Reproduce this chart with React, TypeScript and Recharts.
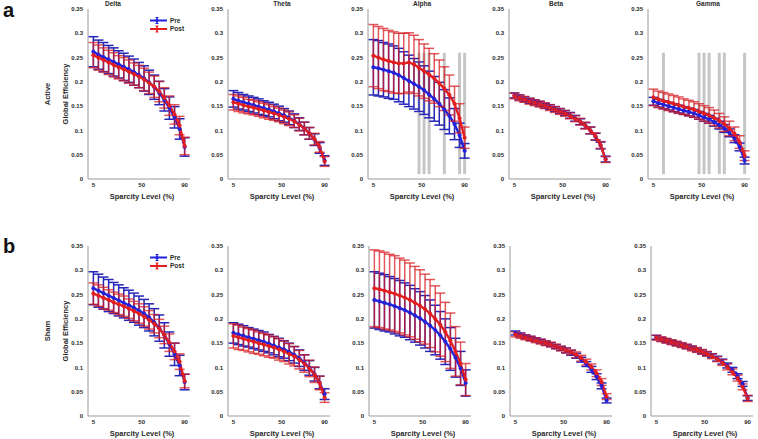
import { LineChart, Line, XAxis, YAxis, ErrorBar, ReferenceLine } from "recharts";

const SPARSITY = [5, 9.7, 14.4, 19.2, 23.9, 28.6, 33.3, 38.1, 42.8, 47.5, 52.2, 56.9, 61.7, 66.4, 71.1, 75.8, 80.6, 85.3, 90];
const X_TICKS = [5, 50, 90];
const Y_TICKS = [0, 0.05, 0.1, 0.15, 0.2, 0.25, 0.3, 0.35];
const BANDS = ["Delta", "Theta", "Alpha", "Beta", "Gamma"];
const GROUPS = ["Active", "Sham"];

// Active group
const deltaActivePre = [0.262, 0.256, 0.251, 0.246, 0.241, 0.236, 0.231, 0.226, 0.22, 0.214, 0.207, 0.199, 0.189, 0.177, 0.163, 0.146, 0.127, 0.103, 0.066];
const deltaActivePreErr = [0.031, 0.03, 0.03, 0.029, 0.029, 0.028, 0.028, 0.027, 0.027, 0.026, 0.026, 0.025, 0.025, 0.024, 0.023, 0.023, 0.022, 0.021, 0.019];
const deltaActivePost = [0.255, 0.25, 0.245, 0.24, 0.235, 0.23, 0.226, 0.221, 0.216, 0.211, 0.205, 0.198, 0.19, 0.18, 0.167, 0.151, 0.133, 0.11, 0.068];
const deltaActivePostErr = [0.026, 0.026, 0.025, 0.025, 0.025, 0.024, 0.024, 0.024, 0.023, 0.023, 0.023, 0.022, 0.022, 0.021, 0.021, 0.02, 0.02, 0.019, 0.018];

const thetaActivePre = [0.165, 0.161, 0.158, 0.155, 0.152, 0.149, 0.146, 0.143, 0.139, 0.135, 0.131, 0.126, 0.12, 0.113, 0.104, 0.094, 0.081, 0.064, 0.038];
const thetaActivePreErr = [0.017, 0.017, 0.016, 0.016, 0.016, 0.016, 0.015, 0.015, 0.015, 0.015, 0.014, 0.014, 0.014, 0.013, 0.013, 0.012, 0.012, 0.011, 0.01];
const thetaActivePost = [0.158, 0.155, 0.152, 0.149, 0.147, 0.144, 0.141, 0.138, 0.135, 0.132, 0.128, 0.124, 0.119, 0.112, 0.104, 0.094, 0.082, 0.066, 0.036];
const thetaActivePostErr = [0.016, 0.016, 0.016, 0.015, 0.015, 0.015, 0.015, 0.015, 0.014, 0.014, 0.014, 0.014, 0.013, 0.013, 0.013, 0.012, 0.012, 0.011, 0.01];

const alphaActivePre = [0.23, 0.228, 0.225, 0.222, 0.219, 0.214, 0.208, 0.202, 0.196, 0.19, 0.183, 0.174, 0.165, 0.155, 0.143, 0.13, 0.113, 0.09, 0.058];
const alphaActivePreErr = [0.057, 0.057, 0.056, 0.056, 0.055, 0.055, 0.054, 0.053, 0.052, 0.051, 0.05, 0.048, 0.046, 0.044, 0.041, 0.037, 0.032, 0.025, 0.015];
const alphaActivePost = [0.254, 0.25, 0.246, 0.243, 0.24, 0.238, 0.238, 0.24, 0.236, 0.229, 0.222, 0.215, 0.207, 0.197, 0.186, 0.173, 0.155, 0.125, 0.085];
const alphaActivePostErr = [0.064, 0.064, 0.064, 0.063, 0.063, 0.062, 0.062, 0.061, 0.06, 0.058, 0.056, 0.054, 0.051, 0.048, 0.045, 0.041, 0.036, 0.03, 0.022];

const betaActivePre = [0.172, 0.168, 0.164, 0.161, 0.158, 0.155, 0.151, 0.148, 0.144, 0.14, 0.136, 0.131, 0.125, 0.118, 0.11, 0.1, 0.087, 0.069, 0.041];
const betaActivePreErr = [0.005, 0.005, 0.005, 0.005, 0.005, 0.005, 0.005, 0.005, 0.005, 0.005, 0.005, 0.006, 0.006, 0.006, 0.006, 0.007, 0.007, 0.007, 0.006];
const betaActivePost = [0.171, 0.167, 0.164, 0.16, 0.157, 0.154, 0.151, 0.147, 0.143, 0.139, 0.135, 0.13, 0.124, 0.118, 0.11, 0.1, 0.088, 0.07, 0.04];
const betaActivePostErr = [0.006, 0.006, 0.006, 0.006, 0.006, 0.006, 0.006, 0.006, 0.006, 0.006, 0.006, 0.006, 0.006, 0.007, 0.007, 0.007, 0.007, 0.007, 0.006];

const gammaActivePre = [0.16, 0.156, 0.153, 0.15, 0.147, 0.144, 0.141, 0.138, 0.135, 0.131, 0.127, 0.123, 0.117, 0.111, 0.104, 0.095, 0.083, 0.066, 0.038];
const gammaActivePreErr = [0.008, 0.008, 0.008, 0.008, 0.008, 0.008, 0.008, 0.008, 0.008, 0.008, 0.008, 0.008, 0.008, 0.008, 0.008, 0.008, 0.008, 0.008, 0.007];
const gammaActivePost = [0.168, 0.164, 0.161, 0.158, 0.155, 0.152, 0.149, 0.146, 0.143, 0.139, 0.135, 0.131, 0.126, 0.12, 0.113, 0.104, 0.093, 0.076, 0.048];
const gammaActivePostErr = [0.017, 0.017, 0.017, 0.017, 0.017, 0.017, 0.016, 0.016, 0.016, 0.016, 0.016, 0.016, 0.016, 0.015, 0.015, 0.015, 0.014, 0.013, 0.01];

// Sham group
const deltaShamPre = [0.263, 0.258, 0.253, 0.248, 0.243, 0.238, 0.233, 0.228, 0.223, 0.217, 0.211, 0.203, 0.193, 0.181, 0.166, 0.148, 0.127, 0.104, 0.07];
const deltaShamPreErr = [0.034, 0.034, 0.033, 0.033, 0.032, 0.032, 0.031, 0.031, 0.03, 0.03, 0.029, 0.028, 0.028, 0.027, 0.026, 0.025, 0.023, 0.021, 0.016];
const deltaShamPost = [0.252, 0.248, 0.243, 0.239, 0.234, 0.23, 0.226, 0.221, 0.216, 0.211, 0.205, 0.198, 0.19, 0.18, 0.167, 0.151, 0.133, 0.112, 0.072];
const deltaShamPostErr = [0.022, 0.022, 0.022, 0.021, 0.021, 0.021, 0.021, 0.02, 0.02, 0.02, 0.02, 0.019, 0.019, 0.019, 0.018, 0.018, 0.017, 0.016, 0.014];

const thetaShamPre = [0.171, 0.168, 0.165, 0.162, 0.159, 0.156, 0.153, 0.149, 0.145, 0.141, 0.137, 0.132, 0.126, 0.119, 0.11, 0.099, 0.086, 0.069, 0.045];
const thetaShamPreErr = [0.021, 0.021, 0.021, 0.02, 0.02, 0.02, 0.02, 0.019, 0.019, 0.019, 0.018, 0.018, 0.017, 0.017, 0.016, 0.015, 0.014, 0.013, 0.011];
const thetaShamPost = [0.165, 0.162, 0.159, 0.156, 0.153, 0.15, 0.147, 0.144, 0.141, 0.137, 0.133, 0.128, 0.123, 0.116, 0.108, 0.098, 0.085, 0.068, 0.038];
const thetaShamPostErr = [0.025, 0.025, 0.024, 0.024, 0.024, 0.023, 0.023, 0.023, 0.022, 0.022, 0.021, 0.021, 0.02, 0.019, 0.018, 0.017, 0.016, 0.014, 0.01];

const alphaShamPre = [0.239, 0.236, 0.233, 0.23, 0.226, 0.222, 0.218, 0.213, 0.207, 0.201, 0.194, 0.186, 0.177, 0.166, 0.153, 0.138, 0.12, 0.098, 0.068];
const alphaShamPreErr = [0.058, 0.058, 0.058, 0.057, 0.057, 0.057, 0.056, 0.056, 0.055, 0.055, 0.054, 0.053, 0.051, 0.049, 0.047, 0.044, 0.04, 0.035, 0.027];
const alphaShamPost = [0.263, 0.261, 0.258, 0.255, 0.252, 0.248, 0.244, 0.239, 0.233, 0.227, 0.22, 0.211, 0.2, 0.188, 0.173, 0.155, 0.133, 0.108, 0.075];
const alphaShamPostErr = [0.079, 0.079, 0.079, 0.078, 0.078, 0.077, 0.077, 0.076, 0.075, 0.074, 0.072, 0.07, 0.068, 0.065, 0.061, 0.057, 0.051, 0.044, 0.033];

const betaShamPre = [0.171, 0.167, 0.163, 0.16, 0.157, 0.154, 0.15, 0.147, 0.143, 0.139, 0.135, 0.13, 0.124, 0.116, 0.107, 0.096, 0.081, 0.062, 0.032];
const betaShamPreErr = [0.004, 0.004, 0.004, 0.004, 0.004, 0.004, 0.004, 0.004, 0.004, 0.004, 0.005, 0.005, 0.005, 0.005, 0.005, 0.006, 0.006, 0.006, 0.005];
const betaShamPost = [0.168, 0.165, 0.162, 0.159, 0.156, 0.153, 0.15, 0.147, 0.143, 0.139, 0.135, 0.131, 0.126, 0.119, 0.111, 0.101, 0.088, 0.07, 0.04];
const betaShamPostErr = [0.005, 0.005, 0.005, 0.005, 0.005, 0.005, 0.005, 0.005, 0.005, 0.005, 0.005, 0.005, 0.006, 0.006, 0.006, 0.006, 0.007, 0.007, 0.006];

const gammaShamPre = [0.162, 0.158, 0.155, 0.152, 0.149, 0.146, 0.143, 0.14, 0.136, 0.132, 0.128, 0.124, 0.118, 0.112, 0.104, 0.095, 0.082, 0.066, 0.037];
const gammaShamPreErr = [0.004, 0.004, 0.004, 0.004, 0.004, 0.004, 0.004, 0.004, 0.004, 0.004, 0.004, 0.004, 0.005, 0.005, 0.005, 0.005, 0.005, 0.005, 0.005];
const gammaShamPost = [0.161, 0.158, 0.155, 0.152, 0.149, 0.146, 0.143, 0.139, 0.136, 0.132, 0.128, 0.123, 0.117, 0.11, 0.101, 0.091, 0.078, 0.06, 0.036];
const gammaShamPostErr = [0.005, 0.005, 0.005, 0.005, 0.005, 0.005, 0.005, 0.005, 0.005, 0.005, 0.005, 0.005, 0.005, 0.006, 0.006, 0.006, 0.006, 0.006, 0.006];

// sparsity levels with significant pre/post differences (grey bars)
const alphaActiveSig = [47.5, 52.2, 56.9, 71.1, 85.3, 90];
const gammaActiveSig = [14.4, 47.5, 52.2, 56.9, 66.4, 71.1, 90];

const FONT = '"Liberation Sans", Arial, sans-serif';
const BLUE = "#2222dc";
const RED = "#e41e1e";
const AXIS = "#9a9a9a";
const TEXT = "#2a2a2a";

const activePanels = [
  [deltaActivePre, deltaActivePreErr, deltaActivePost, deltaActivePostErr, []],
  [thetaActivePre, thetaActivePreErr, thetaActivePost, thetaActivePostErr, []],
  [alphaActivePre, alphaActivePreErr, alphaActivePost, alphaActivePostErr, alphaActiveSig],
  [betaActivePre, betaActivePreErr, betaActivePost, betaActivePostErr, []],
  [gammaActivePre, gammaActivePreErr, gammaActivePost, gammaActivePostErr, gammaActiveSig],
];
const shamPanels = [
  [deltaShamPre, deltaShamPreErr, deltaShamPost, deltaShamPostErr, []],
  [thetaShamPre, thetaShamPreErr, thetaShamPost, thetaShamPostErr, []],
  [alphaShamPre, alphaShamPreErr, alphaShamPost, alphaShamPostErr, []],
  [betaShamPre, betaShamPreErr, betaShamPost, betaShamPostErr, []],
  [gammaShamPre, gammaShamPreErr, gammaShamPost, gammaShamPostErr, []],
];

// layout: left edge of each plot area, per row
const ROW_AXIS_X = [
  [88, 228, 368, 509, 648],
  [88, 228, 369, 510, 651],
];
const ROW_PLOT_TOP = [9, 246];
const PLOT_W = 102;
const PLOT_H = 170;
const TITLE_X = [113, 282, 422, 556, 708];

const fmtY = (v: number) => String(Math.round(v * 100) / 100);

function Panel({ axisX, plotTop, series }: { axisX: number; plotTop: number; series: any[] }) {
  const [pre, preErr, post, postErr, sig] = series;
  const data = SPARSITY.map((x, i) => ({ x, pre: pre[i], preErr: preErr[i], post: post[i], postErr: postErr[i] }));
  const top = plotTop - 9;
  return (
    <div style={{ position: "absolute", left: axisX - 30, top }}>
      <LineChart width={30 + PLOT_W + 2} height={9 + PLOT_H + 22} data={data} margin={{ top: 9, right: 2, bottom: 2, left: 0 }}>
        <XAxis
          dataKey="x"
          type="number"
          domain={[0, 95]}
          ticks={X_TICKS}
          allowDataOverflow
          height={20}
          tickLine={false}
          tickSize={2}
          tickMargin={2}
          axisLine={{ stroke: AXIS }}
          tick={{ fontSize: 6, fill: TEXT, fontWeight: "bold", fontFamily: FONT }}
          label={{ value: "Sparcity Level (%)", position: "insideBottom", offset: 0, dx: 3, fontSize: 7.5, fontWeight: "bold", fill: TEXT, fontFamily: FONT }}
        />
        <YAxis
          width={30}
          type="number"
          domain={[0, 0.35]}
          ticks={Y_TICKS}
          allowDataOverflow
          tickFormatter={fmtY}
          tickLine={false}
          tickSize={3}
          tickMargin={2}
          axisLine={{ stroke: AXIS }}
          tick={{ fontSize: 6, fill: TEXT, fontWeight: "bold", fontFamily: FONT }}
        />
        {sig.map((s: number) => (
          <ReferenceLine key={s} segment={[{ x: s, y: 0.01 }, { x: s, y: 0.26 }]} stroke="#c6c6c6" strokeWidth={3} />
        ))}
        <Line dataKey="pre" stroke={BLUE} strokeWidth={2.4} dot={{ r: 1.6, fill: BLUE, stroke: BLUE, strokeWidth: 1 }} isAnimationActive={false}>
          <ErrorBar dataKey="preErr" width={5} strokeWidth={1.5} stroke="#2626b8" direction="y" />
        </Line>
        <Line dataKey="post" stroke={RED} strokeWidth={2.4} dot={{ r: 1.6, fill: RED, stroke: RED, strokeWidth: 1 }} isAnimationActive={false}>
          <ErrorBar dataKey="postErr" width={5} strokeWidth={1.5} stroke="rgba(215,25,30,0.72)" direction="y" />
        </Line>
      </LineChart>
    </div>
  );
}

function LegendGlyph({ x, y, color, label }: { x: number; y: number; color: string; label: string }) {
  return (
    <g>
      <line x1={x} y1={y} x2={x + 17} y2={y} stroke={color} strokeWidth={2} />
      <line x1={x + 7} y1={y - 3} x2={x + 7} y2={y + 3} stroke={color} strokeWidth={1.5} />
      <line x1={x + 5.5} y1={y - 3} x2={x + 8.5} y2={y - 3} stroke={color} strokeWidth={1} />
      <line x1={x + 5.5} y1={y + 3} x2={x + 8.5} y2={y + 3} stroke={color} strokeWidth={1} />
      <circle cx={x + 7} cy={y} r={1.6} fill={color} />
      <text x={x + 20} y={y + 2.2} fontSize={6.5} fontWeight="bold" fill={TEXT} fontFamily={FONT}>
        {label}
      </text>
    </g>
  );
}

export default function App() {
  const rows = [activePanels, shamPanels];
  return (
    <div style={{ position: "absolute", left: 0, top: 0, width: 758, height: 439, background: "#fff", fontFamily: FONT }}>
      {rows.map((panels, r) =>
        panels.map((series, c) => (
          <Panel key={`${r}-${c}`} axisX={ROW_AXIS_X[r][c]} plotTop={ROW_PLOT_TOP[r]} series={series} />
        ))
      )}
      <svg width={758} height={439} style={{ position: "absolute", left: 0, top: 0, pointerEvents: "none" }}>
        {BANDS.map((b, i) => (
          <text key={b} x={TITLE_X[i]} y={6} textAnchor="middle" fontSize={6.5} fontWeight="bold" fill={TEXT} fontFamily={FONT}>
            {b}
          </text>
        ))}
        <text x={3} y={17} fontSize={20} fontWeight="bold" fill="#111" fontFamily={FONT}>a</text>
        <text x={3} y={253} fontSize={20} fontWeight="bold" fill="#111" fontFamily={FONT}>b</text>
        {GROUPS.map((g, r) => {
          const cy = ROW_PLOT_TOP[r] + PLOT_H / 2;
          return (
            <g key={g}>
              <text x={47} y={cy} transform={`rotate(-90 47 ${cy})`} textAnchor="middle" dominantBaseline="central" fontSize={7.5} fontWeight="bold" fill={TEXT} fontFamily={FONT}>
                {g}
              </text>
              <text x={65} y={cy} transform={`rotate(-90 65 ${cy})`} textAnchor="middle" dominantBaseline="central" fontSize={7.5} fontWeight="bold" fill={TEXT} fontFamily={FONT}>
                Global Efficiency
              </text>
              <LegendGlyph x={150} y={ROW_PLOT_TOP[r] + 11.5} color={BLUE} label="Pre" />
              <LegendGlyph x={150} y={ROW_PLOT_TOP[r] + 20} color={RED} label="Post" />
            </g>
          );
        })}
      </svg>
    </div>
  );
}
